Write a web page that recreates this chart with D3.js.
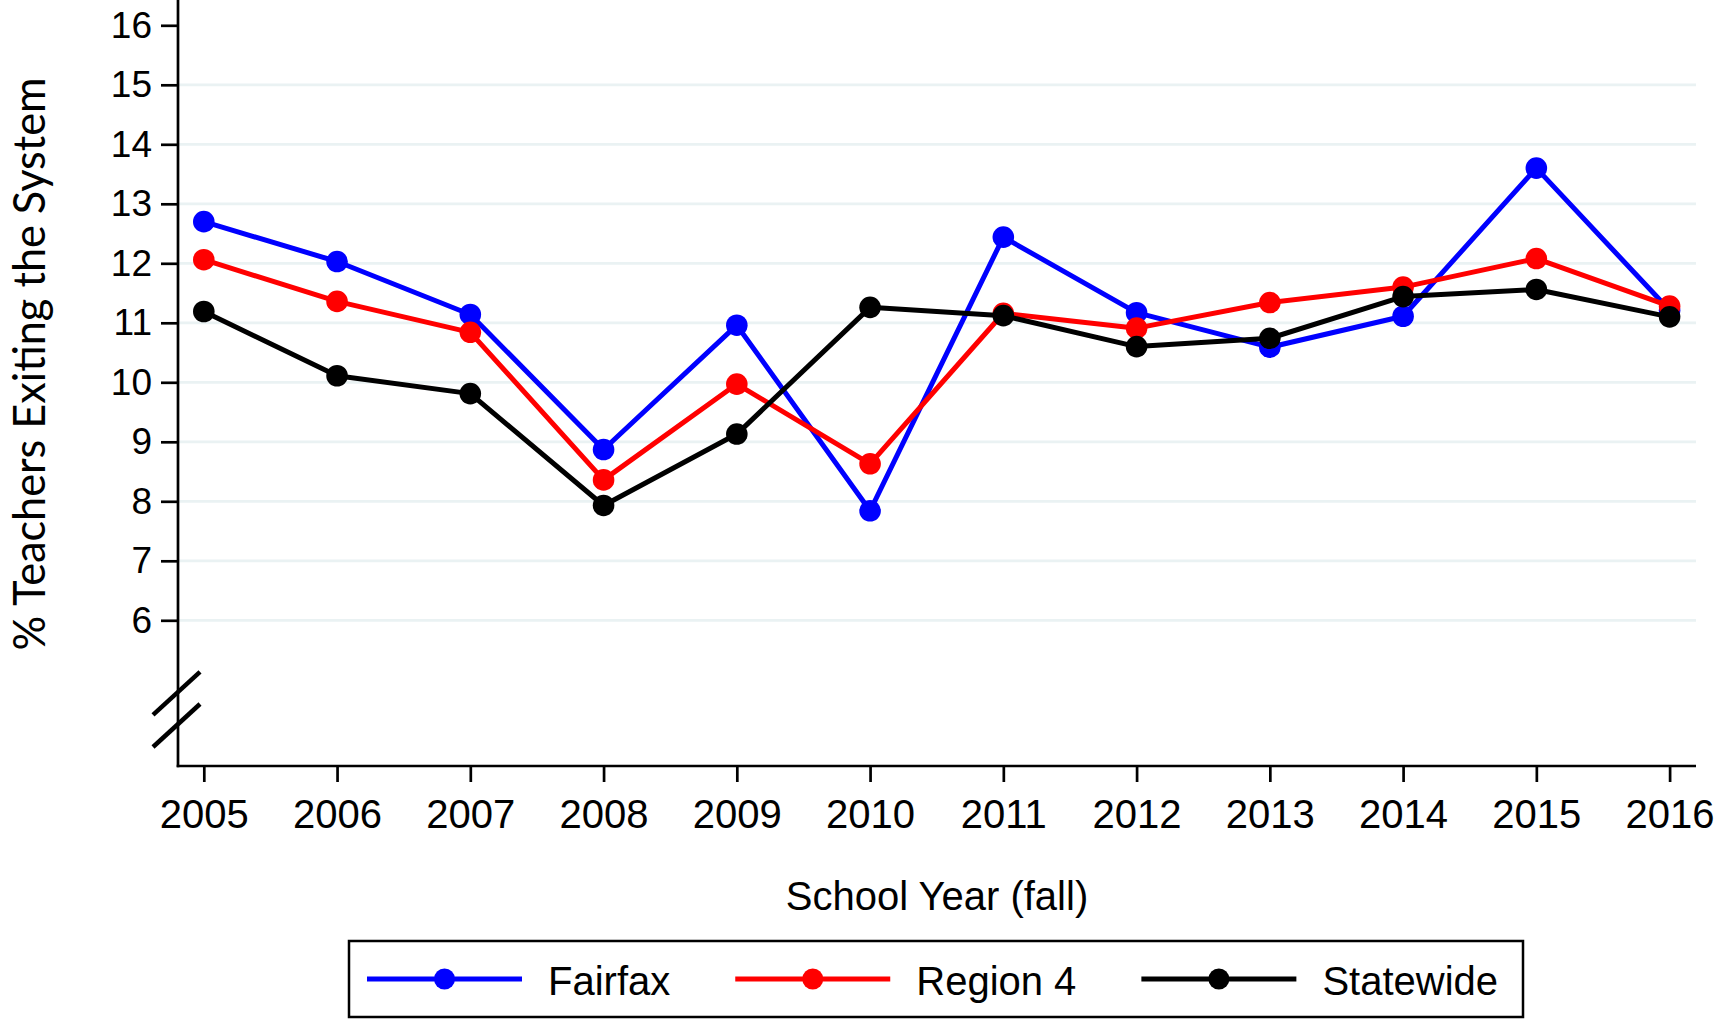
<!DOCTYPE html>
<html>
<head>
<meta charset="utf-8">
<script src="https://cdn.jsdelivr.net/npm/d3@7"></script>
<style>
  body { margin: 0; background: #fff; }
  svg { display: block; }
</style>
</head>
<body>
<div id="chart"></div>
<script>
// data
var years = [2005, 2006, 2007, 2008, 2009, 2010, 2011, 2012, 2013, 2014, 2015, 2016];
var fairfax   = [12.70, 12.03, 11.14, 8.87, 10.96, 7.84, 12.44, 11.17, 10.59, 11.11, 13.60, 11.21];
var region4   = [12.06, 11.36, 10.84, 8.36, 9.97, 8.63, 11.16, 10.91, 11.34, 11.60, 12.08, 11.28];
var statewide = [11.19, 10.11, 9.81, 7.93, 9.13, 11.26, 11.12, 10.60, 10.74, 11.44, 11.56, 11.10];
var seriesNames = ['Fairfax', 'Region 4', 'Statewide'];
var seriesColors = ['#0000ff', '#ff0000', '#000000'];
var yTicks = [6, 7, 8, 9, 10, 11, 12, 13, 14, 15, 16];
var gridTicks = [6, 7, 8, 9, 10, 11, 12, 13, 14, 15];

var width = 1716, height = 1019;
var axisX = 178, axisBottom = 766, plotRight = 1696;

var svg = d3.select('#chart').append('svg')
    .attr('width', width).attr('height', height);

var x = d3.scaleLinear().domain([2005, 2016]).range([203.8, 1669.6]);
var y = d3.scaleLinear().domain([6, 16]).range([620.3, 25.3]);

// gridlines
svg.append('g').selectAll('line')
   .data(gridTicks)
   .enter()
   .append('line')
   .attr('x1', axisX).attr('x2', plotRight)
   .attr('y1', function (d) { return y(d); })
   .attr('y2', function (d) { return y(d); })
   .attr('stroke', '#eaf2f3')
   .attr('stroke-width', 2.7);

// y axis
var yAxis = svg.append('g')
    .attr('transform', 'translate(' + axisX + ',0)')
    .call(d3.axisLeft(y).tickValues(yTicks).tickSize(17).tickPadding(9).tickFormat(d3.format('d')));
yAxis.select('.domain').remove();
yAxis.selectAll('line').attr('stroke', '#000').attr('stroke-width', 2.7);
yAxis.selectAll('text')
     .attr('font-family', '"Liberation Sans", Arial, sans-serif')
     .attr('font-size', 37).attr('fill', '#000');

// x axis
var xAxis = svg.append('g')
    .attr('transform', 'translate(0,' + axisBottom + ')')
    .call(d3.axisBottom(x).tickValues(years).tickSize(16).tickPadding(18).tickFormat(d3.format('d')));
xAxis.select('.domain').remove();
xAxis.selectAll('line').attr('stroke', '#000').attr('stroke-width', 2.7);
xAxis.selectAll('text')
     .attr('font-family', '"Liberation Sans", Arial, sans-serif')
     .attr('font-size', 40).attr('fill', '#000');

// axis lines
svg.append('line')
   .attr('x1', axisX).attr('x2', axisX).attr('y1', 0).attr('y2', axisBottom + 1.3)
   .attr('stroke', '#000').attr('stroke-width', 2.7);
svg.append('line')
   .attr('x1', axisX - 1.3).attr('x2', plotRight).attr('y1', axisBottom).attr('y2', axisBottom)
   .attr('stroke', '#000').attr('stroke-width', 2.7);

// axis break marks
[4.78, 4.24].forEach(function (v) {
    var cy = y(v);
    svg.append('line')
       .attr('x1', axisX - 25).attr('y1', cy + 22)
       .attr('x2', axisX + 22).attr('y2', cy - 21)
       .attr('stroke', '#000').attr('stroke-width', 4.5);
});

// series
var allSeries = [fairfax, region4, statewide];
var line = d3.line()
    .x(function (d, i) { return x(years[i]); })
    .y(function (d) { return y(d); });

allSeries.forEach(function (vals, k) {
    var g = svg.append('g');
    g.append('path')
     .datum(vals)
     .attr('d', line)
     .attr('fill', 'none')
     .attr('stroke', seriesColors[k])
     .attr('stroke-width', 5)
     .attr('stroke-linejoin', 'round');
    g.selectAll('circle')
     .data(vals)
     .enter()
     .append('circle')
     .attr('cx', function (d, i) { return x(years[i]); })
     .attr('cy', function (d) { return y(d); })
     .attr('r', 10.8)
     .attr('fill', seriesColors[k]);
});

// axis titles
svg.append('text')
   .attr('x', 937).attr('y', 910)
   .attr('text-anchor', 'middle')
   .attr('font-family', '"Liberation Sans", Arial, sans-serif')
   .attr('font-size', 40)
   .text('School Year (fall)');

svg.append('text')
   .attr('transform', 'translate(45,364) rotate(-90)')
   .attr('text-anchor', 'middle')
   .attr('font-family', 'Lato, "Open Sans", sans-serif')
   .attr('font-size', 45)
   .attr('textLength', 573)
   .attr('lengthAdjust', 'spacingAndGlyphs')
   .text('% Teachers Exiting the System');

// legend
svg.append('rect')
   .attr('x', 349).attr('y', 941).attr('width', 1174).attr('height', 76)
   .attr('fill', '#fff').attr('stroke', '#000').attr('stroke-width', 2.5);

var lx = 367;
seriesNames.forEach(function (name, k) {
    var g = svg.append('g');
    g.append('line')
     .attr('x1', lx).attr('x2', lx + 155).attr('y1', 979).attr('y2', 979)
     .attr('stroke', seriesColors[k]).attr('stroke-width', 5);
    g.append('circle')
     .attr('cx', lx + 77.5).attr('cy', 979).attr('r', 10.5)
     .attr('fill', seriesColors[k]);
    var t = g.append('text')
     .attr('x', lx + 181).attr('y', 995)
     .attr('font-family', '"Liberation Sans", Arial, sans-serif')
     .attr('font-size', 40)
     .text(name);
    lx = lx + 181 + t.node().getComputedTextLength() + 65;
});
</script>
</body>
</html>
